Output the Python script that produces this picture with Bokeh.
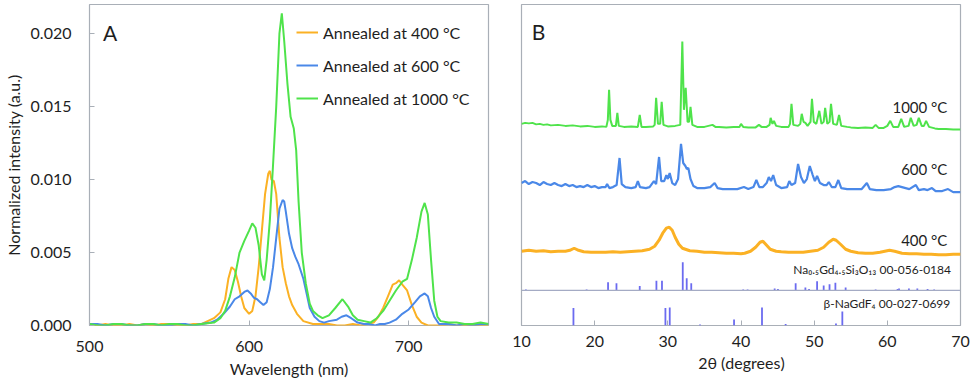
from bokeh.plotting import figure
from bokeh.models import Label, Span, FixedTicker, NumeralTickFormatter, ColumnDataSource
from bokeh.layouts import row
from bokeh.embed import file_html
from bokeh.resources import INLINE

FONT = "Lato"
TXT = "#1e1e1e"
FRAME = "#a9afb7"
C400 = "#fbb124"
C600 = "#4a88e8"
C1000 = "#4fe34b"
STICK = "#6b6bf0"

# ---------------- Panel A: emission spectra ----------------
series_labels = ["Annealed at 400 °C", "Annealed at 600 °C", "Annealed at 1000 °C"]

wl_400 = [500, 505, 510, 515, 520, 525, 530, 535, 540, 545, 550, 555, 560, 565, 570, 574, 578, 582, 585, 587, 589, 591,
          593, 595, 597, 600, 602, 604, 606, 608, 610, 612, 613, 614, 615.5, 617, 619, 621, 623, 625, 627, 630, 634, 640,
          645, 650, 655, 660, 665, 670, 674, 678, 681, 684, 687, 690, 692, 694, 696, 699, 702, 705, 708, 712, 716, 720,
          725, 730, 740, 750]
int_400 = [0.0001, 0.0000, 0.0001, 0.0000, 0.0000, 0.0001, 0.0000, 0.0001, 0.0000, 0.0001, 0.0001, 0.0000, 0.0000,
           0.0001, 0.0001, 0.0003, 0.0005, 0.0009, 0.0018, 0.0032, 0.0040, 0.0038, 0.0030, 0.0020, 0.0012, 0.0008,
           0.0010, 0.0020, 0.0040, 0.0065, 0.0090, 0.0104, 0.0106, 0.0100, 0.0099, 0.0090, 0.0060, 0.0040, 0.0029,
           0.0020, 0.0014, 0.0008, 0.0003, 0.0001, 0.0001, 0.0001, 0.0000, 0.0000, 0.0001, 0.0000, 0.0001, 0.0002,
           0.0006, 0.0012, 0.0020, 0.0028, 0.0029, 0.0031, 0.0028, 0.0024, 0.0014, 0.0006, 0.0002, 0.0000, 0.0000,
           0.0000, 0.0001, 0.0000, 0.0000, 0.0000]

wl_600 = [500, 505, 510, 515, 520, 525, 530, 535, 540, 545, 550, 555, 560, 565, 570, 576, 580, 584, 588, 591, 594, 597,
          599, 601, 603, 605, 607, 609, 611, 613, 615, 617, 619, 621, 622, 623, 625, 627, 629, 631, 634, 636, 638, 641,
          644, 647, 650, 655, 658, 661, 664, 668, 672, 675, 679, 682, 685, 688, 692, 696, 700, 704, 707, 710, 712, 714,
          716, 719, 725, 730, 735, 740, 745, 750]
int_600 = [0.0001, 0.0001, 0.0000, 0.0001, 0.0001, 0.0000, 0.0000, 0.0001, 0.0001, 0.0000, 0.0000, 0.0001, 0.0001,
           0.0000, 0.0001, 0.0002, 0.0004, 0.0008, 0.0013, 0.0018, 0.0020, 0.0023, 0.0024, 0.0022, 0.0019, 0.0018,
           0.0016, 0.0014, 0.0016, 0.0025, 0.0040, 0.0060, 0.0080, 0.0086, 0.0085, 0.0078, 0.0063, 0.0053, 0.0047,
           0.0042, 0.0032, 0.0022, 0.0012, 0.0006, 0.0003, 0.0002, 0.0003, 0.0004, 0.0006, 0.0007, 0.0005, 0.0002,
           0.0001, 0.0001, 0.0000, 0.0001, 0.0001, 0.0002, 0.0004, 0.0008, 0.0011, 0.0016, 0.0020, 0.0022, 0.0020,
           0.0012, 0.0006, 0.0001, 0.0001, 0.0000, 0.0001, 0.0000, 0.0001, 0.0001]

wl_1000 = [500, 505, 510, 515, 520, 525, 530, 535, 540, 545, 550, 555, 560, 565, 570, 578, 582, 585, 588, 591, 594, 597,
           600, 602, 604, 606, 608, 609.5, 611, 613, 615, 617, 619, 620.5, 622, 624, 626, 628, 629.5, 631, 633, 635.5,
           638, 640, 643, 646, 650, 654, 658.5, 662, 665, 668, 672, 676, 680, 684, 688, 692, 696, 699, 702, 705, 708,
           710, 712, 714, 716, 718, 720, 725, 730, 735, 740, 745, 750]
int_1000 = [0.0001, 0.0000, 0.0000, 0.0001, 0.0001, 0.0000, 0.0000, 0.0001, 0.0001, 0.0000, 0.0001, 0.0001, 0.0000,
            0.0000, 0.0001, 0.0002, 0.0005, 0.0010, 0.0020, 0.0033, 0.0050, 0.0058, 0.0065, 0.0070, 0.0067, 0.0055,
            0.0035, 0.0031, 0.0045, 0.0072, 0.0110, 0.0150, 0.0200, 0.0214, 0.0195, 0.0166, 0.0143, 0.0135, 0.0120,
            0.0085, 0.0050, 0.0029, 0.0015, 0.0010, 0.0007, 0.0005, 0.0007, 0.0012, 0.0018, 0.0013, 0.0007, 0.0004,
            0.0003, 0.0002, 0.0005, 0.0010, 0.0017, 0.0024, 0.0030, 0.0032, 0.0045, 0.0060, 0.0078, 0.0084, 0.0076,
            0.0045, 0.0017, 0.0006, 0.0003, 0.0002, 0.0002, 0.0001, 0.0001, 0.0002, 0.0001]

# ---------------- Panel B: XRD ----------------
xrd_labels = ["1000 °C", "600 °C", "400 °C"]
xrd_offsets = [195, 132, 70]

tt_1000 = [10.0, 10.5, 11.0, 11.5, 12.0, 12.5, 13.0, 13.5, 14.0, 15.0, 16.0, 17.0, 18.0, 19.0, 20.0, 21.0, 21.6, 21.8,
           21.97, 22.15, 22.4, 22.9, 23.1, 23.3, 24.0, 25.0, 25.9, 26.16, 26.4, 27.0, 28.0, 28.2, 28.4, 28.65, 28.95,
           29.16, 29.4, 30.0, 31.0, 31.7, 31.98, 32.2, 32.44, 32.7, 32.9, 33.1, 33.35, 34.0, 35.0, 36.1, 36.5, 37.0,
           38.0, 39.0, 39.8, 40.0, 40.3, 41.0, 42.0, 42.45, 42.8, 43.5, 43.9, 44.05, 44.3, 44.5, 44.8, 45.5, 46.5, 46.7,
           46.9, 47.15, 47.8, 48.1, 48.3, 48.55, 48.8, 49.1, 49.5, 49.7, 49.95, 50.3, 50.7, 51.0, 51.3, 51.5, 51.8,
           52.1, 52.3, 52.6, 53.1, 53.4, 53.7, 54.5, 55.0, 56.0, 57.0, 58.0, 58.4, 58.8, 59.5, 60.0, 60.4, 60.8, 61.5,
           61.9, 62.3, 62.9, 63.2, 63.6, 64.0, 64.3, 64.7, 65.0, 65.3, 65.7, 66.5, 67.0, 68.0, 69.0, 70.0]
xrd_1000 = [6, 7, 6.5, 7, 5.5, 6, 5, 5.5, 4.5, 5, 4, 4.5, 3.5, 4, 3, 3.5, 3, 10,
            40, 10, 4, 4, 17, 4, 3, 3.5, 3, 15, 3, 3, 3.5, 5, 32, 6, 6,
            28, 5, 3.5, 4, 5, 88, 20, 42, 8, 8, 23, 5, 3, 3, 5, 3, 3,
            2.5, 3, 3, 6, 3, 2.5, 2.5, 5, 3, 3, 5, 12, 6, 9, 4, 3, 3, 6,
            26, 5, 4, 6, 16, 8, 7, 4, 8, 31, 8, 6, 19, 6, 8, 22, 6,
            8, 26, 6, 5, 15, 4, 3, 2.5, 2, 2.5, 2, 5, 2, 2, 4, 9, 3, 3,
            11, 3, 4, 12, 4, 5, 12, 4, 4, 9, 3, 1.5, 1, 1, 0.5, 0.5]

tt_600 = [10.0, 10.5, 11.0, 11.5, 12.0, 12.5, 13.0, 13.5, 14.0, 14.5, 15.0, 15.5, 16.0, 16.5, 17.0, 17.5, 18.0, 18.5,
          19.0, 19.5, 20.0, 20.5, 21.0, 21.5, 21.7, 22.0, 22.5, 23.0, 23.4, 23.7, 24.2, 25.0, 25.6, 25.9, 26.2, 27.0,
          27.5, 28.1, 28.4, 28.8, 29.1, 29.5, 29.8, 30.0, 30.25, 30.6, 31.0, 31.4, 31.8, 32.1, 32.4, 32.6, 32.8, 33.1,
          33.5, 34.0, 35.0, 35.8, 36.4, 36.8, 37.5, 38.5, 39.5, 40.4, 41.0, 41.7, 42.1, 42.5, 43.0, 43.5, 43.8, 44.1,
          44.4, 44.8, 45.5, 46.3, 46.6, 46.9, 47.4, 47.8, 48.2, 48.6, 49.0, 49.4, 49.8, 50.1, 50.4, 50.8, 51.3, 51.7,
          52.0, 52.4, 52.9, 53.3, 53.7, 54.5, 55.5, 56.5, 57.2, 57.6, 58.5, 59.5, 60.5, 61.0, 61.5, 62.0, 62.5, 63.0,
          63.9, 64.3, 65.0, 65.5, 66.1, 66.6, 67.5, 68.3, 69.0, 70.0]
xrd_600 = [10, 12, 9, 11, 10, 8, 11, 9, 8, 10, 8, 7, 9, 7, 8, 6, 7, 6,
           8, 6, 7, 5, 6, 6, 9, 5, 6, 8, 35, 9, 6, 5, 6, 12, 6, 5,
           6, 12, 9, 36, 12, 12, 18, 14, 20, 10, 8, 14, 49, 30, 27, 24, 25, 14,
           7, 5, 5, 6, 10, 5, 4, 4, 4, 6, 4, 6, 13, 6, 6, 10, 16, 12,
           18, 8, 5, 6, 12, 8, 10, 29, 16, 10, 14, 27, 18, 12, 17, 10, 8, 8,
           11, 6, 6, 13, 5, 4, 4, 4, 10, 4, 3, 3, 4, 6, 7, 6, 5, 4,
           8, 3, 4, 3, 5, 2, 2, 4, 1, 1]

tt_400 = [10.0, 11.0, 12.0, 13.0, 14.0, 15.0, 16.0, 16.6, 17.2, 17.8, 18.5, 19.5, 20.5, 21.5, 22.5, 23.5, 24.5, 25.5,
          26.5, 27.5, 28.2, 28.8, 29.3, 29.8, 30.2, 30.6, 31.0, 31.5, 32.0, 33.0, 34.0, 35.0, 36.0, 37.0, 38.0, 39.0,
          40.0, 40.5, 41.3, 42.0, 42.6, 43.0, 43.5, 44.0, 44.8, 45.5, 46.5, 47.5, 48.5, 49.5, 50.5, 51.3, 52.0, 52.6,
          53.0, 53.6, 54.3, 55.0, 56.0, 57.0, 58.0, 59.0, 60.3, 61.0, 62.0, 63.0, 64.0, 65.0, 66.0, 67.0, 68.0, 69.0,
          70.0]
xrd_400 = [4, 5, 4, 4.5, 3.5, 4, 4, 5, 7, 5, 3.5, 3, 3, 3, 3.5, 3, 3.5, 4,
           4.5, 6, 9, 15, 22, 27, 28, 25, 18, 11, 7, 4.5, 4, 3, 3, 2.5, 2, 2,
           1.5, 2, 4, 8, 13, 14, 10, 6, 4, 3.5, 3, 3, 3, 4, 5, 8, 13, 16,
           15, 11, 6, 4, 2.5, 2, 2, 3, 5, 4, 2, 1.5, 1.5, 1, 1, 0.5, 0.5, 1,
           1]

# Reference patterns (stick positions in 2theta, relative intensities)
ref1_label = "Na₀.₅Gd₄.₅Si₃O₁₃ 00-056-0184"
ref1_base = 35
ref1_pos = [10.6, 18.9, 21.83, 22.98, 26.16, 28.44, 29.2, 32.04, 32.58, 33.2, 40.3, 40.9, 44.6, 45.05, 47.47, 48.8,
            49.3, 50.4, 51.3, 52.1, 52.9, 54.3, 58.4, 61.4, 61.6, 62.95, 64.1, 65.5, 66.4]
ref1_int = [1, 1, 8, 7, 4.5, 9.7, 9.7, 28, 12, 7, 1, 1, 2, 1.5, 7, 3,
            1.5, 9, 5, 6, 7.5, 3, 1, 1.5, 2, 2, 2, 1.5, 1]

ref2_label = "β-NaGdF₄ 00-027-0699"
ref2_base = 0
ref2_pos = [17.1, 29.67, 30.26, 34.4, 39.05, 42.87, 46.1, 52.98, 53.85]
ref2_int = [17.5, 17.5, 18, 1, 6, 18, 1.5, 2, 14]


def style_axes(p):
    p.outline_line_color = FRAME
    p.outline_line_width = 1.2
    p.grid.visible = False
    for ax in p.axis:
        ax.axis_line_color = None
        ax.major_tick_in = 5
        ax.major_tick_out = 0
        ax.minor_tick_line_color = None
        ax.major_tick_line_color = FRAME
        ax.major_label_text_font = FONT
        ax.major_label_text_font_size = "16px"
        ax.major_label_text_color = TXT
        ax.axis_label_text_font = FONT
        ax.axis_label_text_font_size = "16px"
        ax.axis_label_text_font_style = "normal"
        ax.axis_label_text_color = TXT


# ---- Figure A
pA = figure(width=498, height=385, x_range=(500, 750), y_range=(0, 0.022),
            output_backend="svg", toolbar_location=None,
            min_border_left=86, min_border_right=10, min_border_top=4, min_border_bottom=60)
pA.line(wl_400, int_400, line_color=C400, line_width=2, legend_label=series_labels[0])
pA.line(wl_600, int_600, line_color=C600, line_width=2, legend_label=series_labels[1])
pA.line(wl_1000, int_1000, line_color=C1000, line_width=2, legend_label=series_labels[2])
style_axes(pA)
pA.xaxis.ticker = FixedTicker(ticks=[500, 600, 700])
pA.yaxis.ticker = FixedTicker(ticks=[0, 0.005, 0.010, 0.015, 0.020])
pA.yaxis.formatter = NumeralTickFormatter(format="0.000")
pA.xaxis.axis_label = "Wavelength (nm)"
pA.yaxis.axis_label = "Normalized intensity (a.u.)"
pA.xaxis.major_label_standoff = 15
pA.xaxis.axis_label_standoff = 4
pA.yaxis.major_label_standoff = 18
pA.yaxis.axis_label_standoff = 5

lg = pA.legend[0]
lg.location = (207, 217)
lg.background_fill_alpha = 0
lg.border_line_alpha = 0
lg.padding = 0
lg.margin = 0
lg.spacing = 13
lg.glyph_width = 22
lg.glyph_height = 20
lg.label_height = 20
lg.label_standoff = 5
lg.label_text_font = FONT
lg.label_text_font_size = "16px"
lg.label_text_color = TXT

pA.add_layout(Label(x=508.5, y=0.0201, text="A", text_font=FONT, text_font_size="21px",
                    text_color=TXT, text_baseline="middle", text_align="left"))

# ---- Figure B
pB = figure(width=473, height=385, x_range=(10, 70), y_range=(0, 320),
            output_backend="svg", toolbar_location=None,
            min_border_left=23, min_border_right=11, min_border_top=4, min_border_bottom=60)
style_axes(pB)
pB.yaxis.visible = False
pB.xaxis.ticker = FixedTicker(ticks=[10, 20, 30, 40, 50, 60, 70])
pB.xaxis.axis_label = "2θ (degrees)"
pB.xaxis.major_label_standoff = 10
pB.xaxis.axis_label_standoff = 3

pB.add_layout(Span(location=ref1_base, dimension="width", line_color="#a4abc4", line_width=1.2))

src1 = ColumnDataSource(dict(x=ref1_pos, y0=[ref1_base] * len(ref1_pos),
                             y1=[ref1_base + v for v in ref1_int]))
src2 = ColumnDataSource(dict(x=ref2_pos, y0=[ref2_base] * len(ref2_pos),
                             y1=[ref2_base + v for v in ref2_int]))
pB.segment(x0="x", y0="y0", x1="x", y1="y1", source=src1, line_color=STICK, line_width=1.8)
pB.segment(x0="x", y0="y0", x1="x", y1="y1", source=src2, line_color=STICK, line_width=1.8)

pB.line(tt_400, [xrd_offsets[2] + v for v in xrd_400], line_color=C400, line_width=3)
pB.line(tt_600, [xrd_offsets[1] + v for v in xrd_600], line_color=C600, line_width=2.2)
pB.line(tt_1000, [xrd_offsets[0] + v for v in xrd_1000], line_color=C1000, line_width=2)

label_y = [218, 156, 85]
for txt, yy in zip(xrd_labels, label_y):
    pB.add_layout(Label(x=68.2, y=yy, text=txt, text_font=FONT, text_font_size="15px",
                        text_color=TXT, text_baseline="middle", text_align="right"))
pB.add_layout(Label(x=68.7, y=56, text=ref1_label, text_font=FONT, text_font_size="12px",
                    text_color=TXT, text_baseline="middle", text_align="right"))
pB.add_layout(Label(x=68.6, y=22, text=ref2_label, text_font=FONT, text_font_size="12px",
                    text_color=TXT, text_baseline="middle", text_align="right"))
pB.add_layout(Label(x=11.4, y=293, text="B", text_font=FONT, text_font_size="21px",
                    text_color=TXT, text_baseline="middle", text_align="left"))

layout = row(pA, pB)
open("out.html", "w").write(file_html(layout, INLINE))
